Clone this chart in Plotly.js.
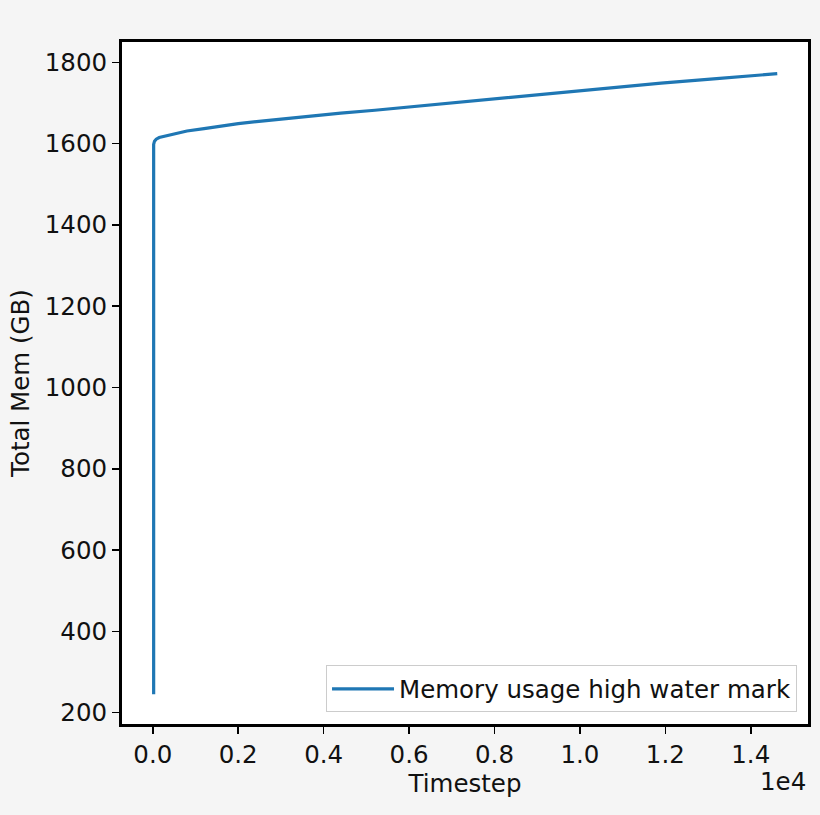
<!DOCTYPE html>
<html>
<head>
<meta charset="utf-8">
<script src="https://cdn.plot.ly/plotly-3.0.1.min.js"></script>
<style>
  html, body { margin: 0; padding: 0; background: #f5f5f5; }
  #chart { width: 820px; height: 815px; }
</style>
</head>
<body>
<div id="chart"></div>
<script>
// Memory high water mark
const timestep = [20, 20, 40, 80, 150, 300, 500, 800, 1200, 1600, 2000, 2600, 3600, 4400, 5200,
  6200, 7200, 8200, 9500, 10600, 11900, 13200, 14000, 14620];
const totalMem = [245, 1598, 1606, 1611, 1615, 1619, 1625, 1631, 1637, 1643, 1649, 1656, 1667, 1675, 1682,
  1692, 1702, 1712, 1724, 1736, 1749, 1760, 1766, 1772];

const xTickVals = [0, 2000, 4000, 6000, 8000, 10000, 12000, 14000];
const xTickText = ['0.0', '0.2', '0.4', '0.6', '0.8', '1.0', '1.2', '1.4'];

const font = { family: 'DejaVu Sans, sans-serif', size: 24.5, color: '#111' };

const data = [
  {
    type: 'scatter',
    mode: 'lines',
    x: timestep,
    y: totalMem,
    name: 'Memory usage high water mark',
    line: { color: '#1f77b4', width: 3.2 },
  },
];

const layout = {
  width: 820,
  height: 815,
  font: font,
  paper_bgcolor: '#f5f5f5',
  plot_bgcolor: '#ffffff',
  margin: { l: 122, r: 12, t: 42, b: 91 },
  showlegend: true,
  legend: {
    x: 0.984,
    y: 0.017,
    xanchor: 'right',
    yanchor: 'bottom',
    bgcolor: 'rgba(255,255,255,0.8)',
    bordercolor: '#cccccc',
    borderwidth: 1,
    itemwidth: 62,
    font: font,
  },
  xaxis: {
    range: [-721, 15340],
    tickvals: xTickVals,
    ticktext: xTickText,
    ticks: 'outside',
    ticklen: 7,
    tickwidth: 1.5,
    tickcolor: '#000',
    showgrid: false,
    zeroline: false,
    showline: true,
    linecolor: '#000',
    linewidth: 3,
    mirror: true,
    title: { text: 'Timestep', font: font, standoff: 6 },
  },
  yaxis: {
    range: [172, 1850],
    dtick: 200,
    tick0: 0,
    ticks: 'outside',
    ticklen: 7,
    tickwidth: 1.5,
    tickcolor: '#000',
    showgrid: false,
    zeroline: false,
    showline: true,
    linecolor: '#000',
    linewidth: 3,
    mirror: true,
    title: { text: 'Total Mem (GB)', font: font, standoff: 9 },
  },
  annotations: [
    {
      text: '1e4',
      xref: 'paper',
      yref: 'paper',
      x: 1,
      y: -0.085,
      xanchor: 'right',
      yanchor: 'middle',
      showarrow: false,
      font: font,
    },
  ],
};

Plotly.newPlot('chart', data, layout, { displayModeBar: false, staticPlot: true });
</script>
</body>
</html>
